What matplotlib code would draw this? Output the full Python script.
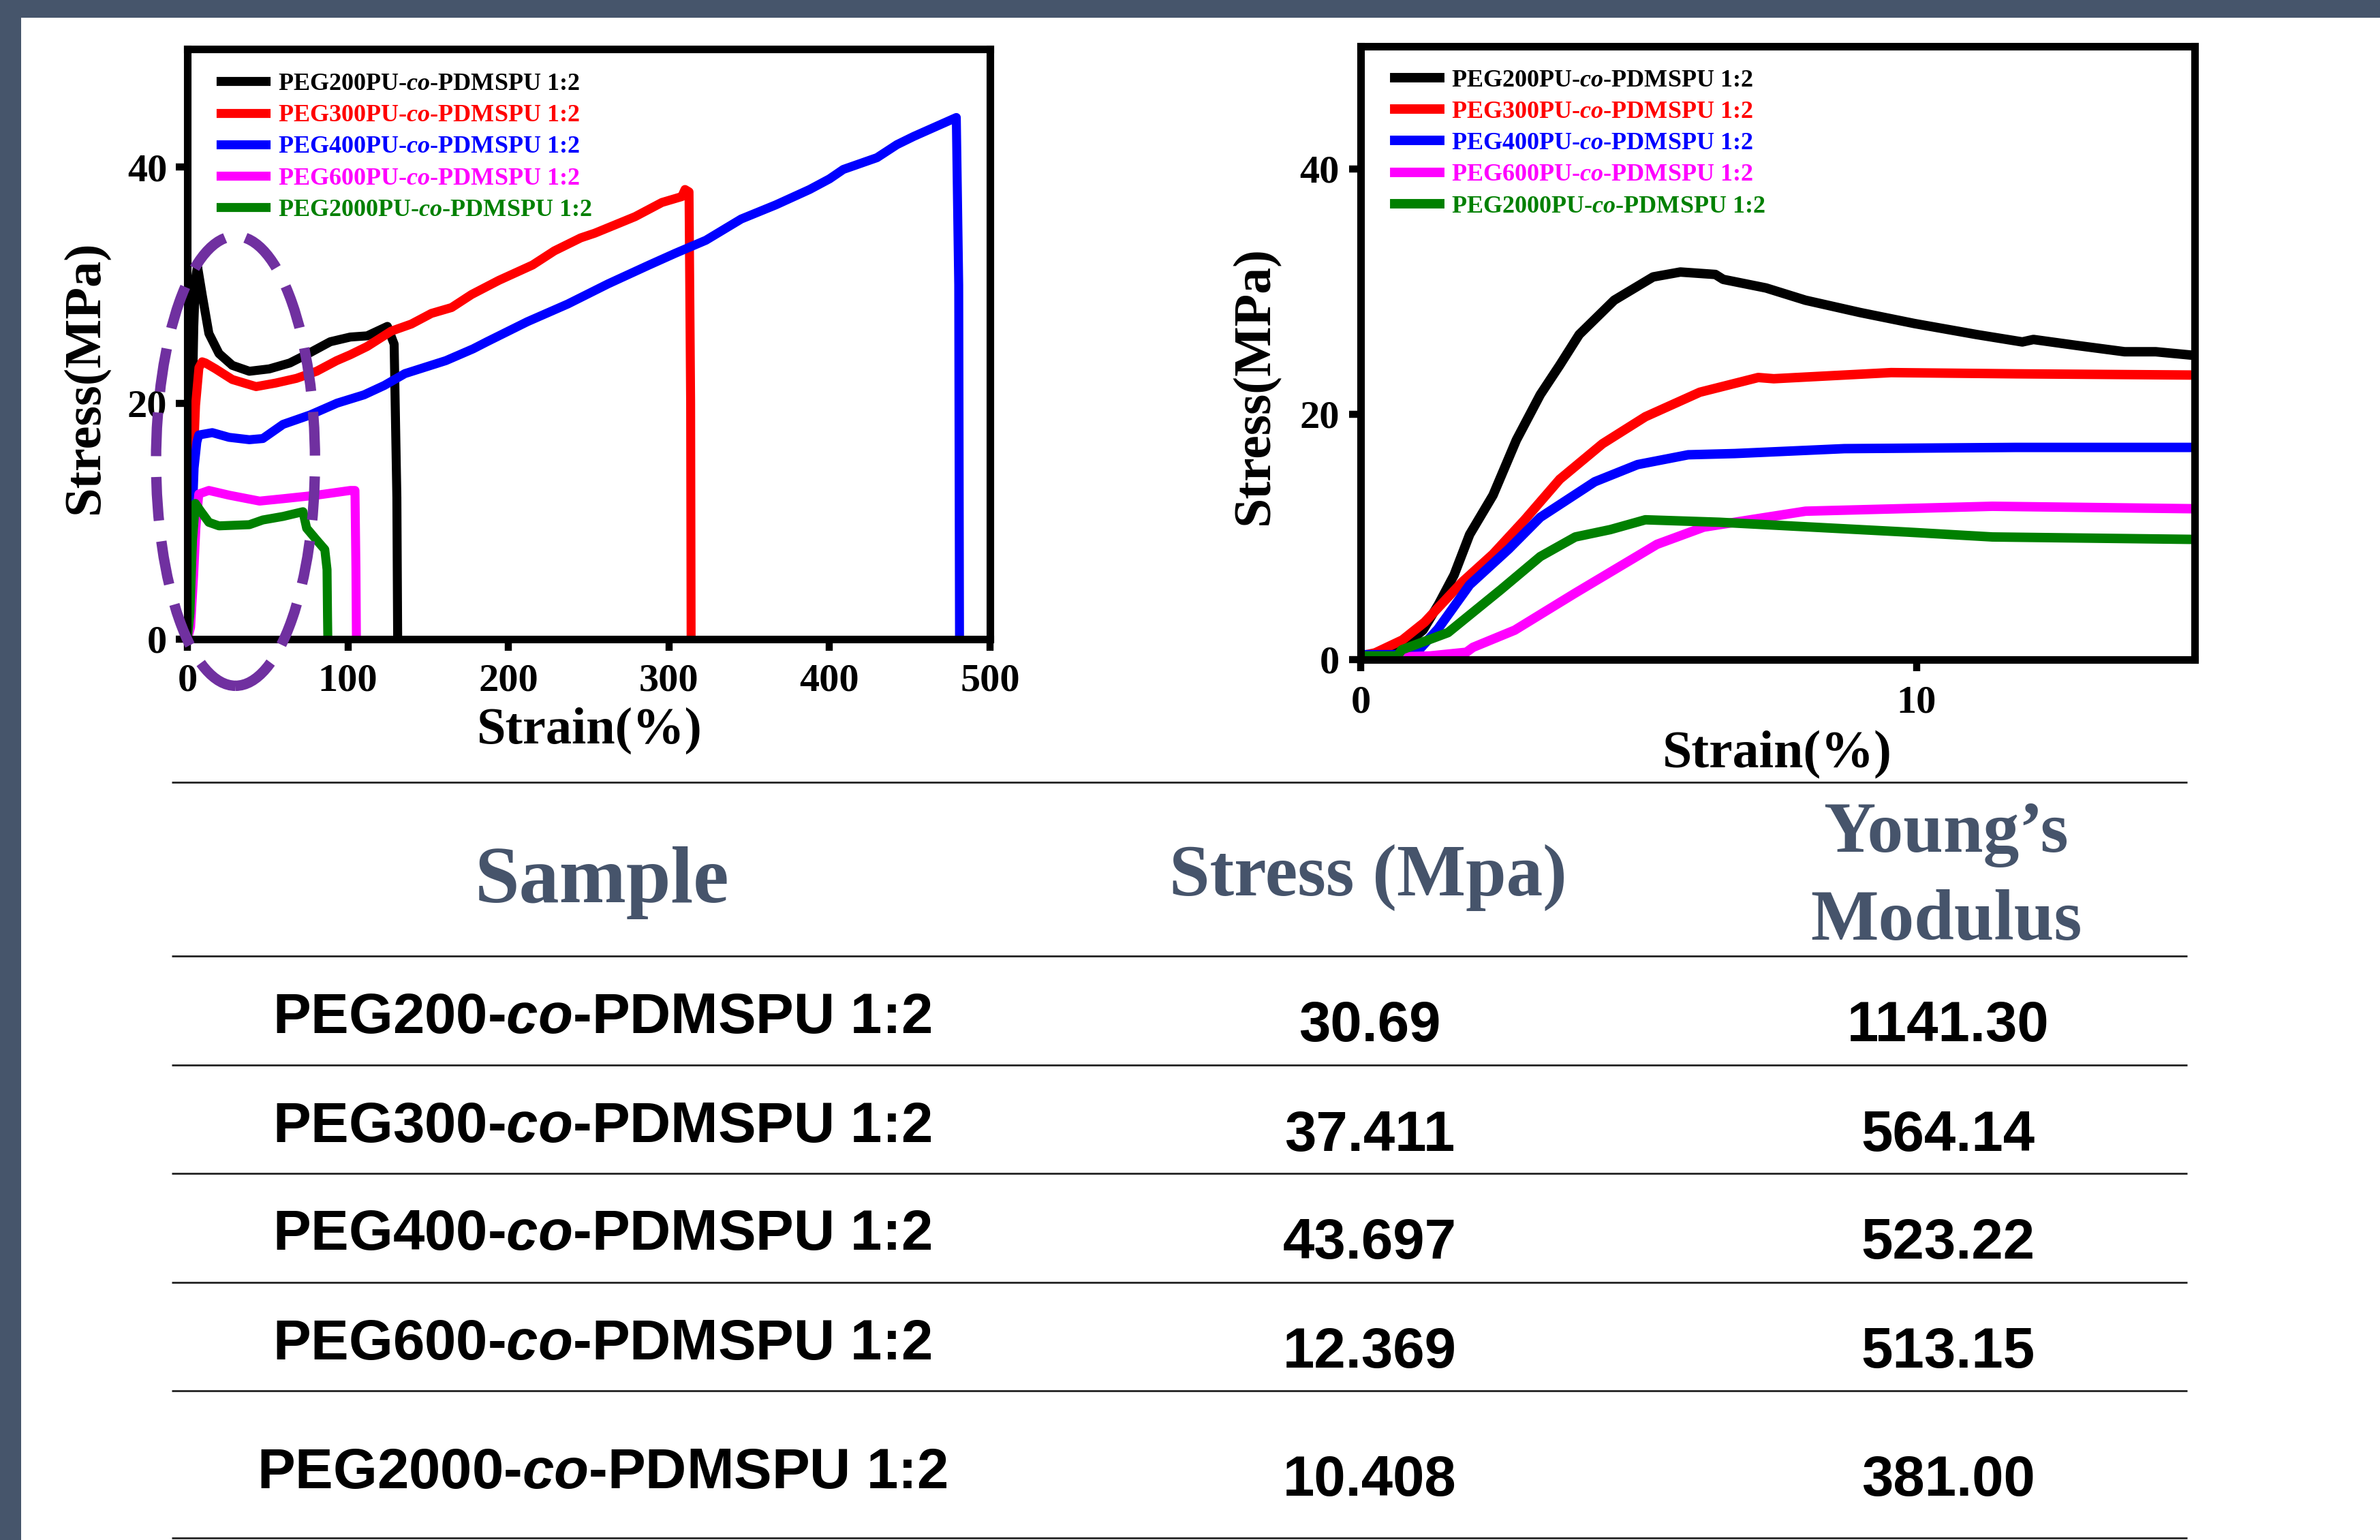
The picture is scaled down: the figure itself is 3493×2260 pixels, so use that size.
#!/usr/bin/env python3
"""Stress-strain curves of PEGxPU-co-PDMSPU 1:2 films plus summary table."""

import matplotlib
matplotlib.use("Agg")
import matplotlib.pyplot as plt
from matplotlib.patches import Ellipse, Rectangle

W, H = 3493, 2260

GRADES = ["PEG200", "PEG300", "PEG400", "PEG600", "PEG2000"]

# full range (left panel), strain % / stress MPa
wide_strain_200 = [0, 1, 2, 3, 4, 5, 6.3, 9.2, 13.4, 19.7, 28, 38.6, 51, 63.8, 74, 89, 101.5, 112, 124.6, 128.8, 130.5, 131]
wide_stress_200 = [0, 2, 10, 19.5, 26.5, 30.5, 31.6, 29.2, 25.9, 24.2, 23.2, 22.7, 22.9, 23.4, 24.1, 25.2, 25.6, 25.7, 26.5, 25, 12, 0]
wide_strain_300 = [0, 1.2, 2.4, 3.6, 5.1, 7.2, 9.2, 11.3, 17.6, 28, 42.8, 55, 68, 80.5, 93, 101.5, 112, 127, 139.5, 152, 164.6, 177, 194, 215, 228.6, 245, 253.8, 278.9, 295.6, 308, 310, 312.5, 313.5, 313.8]
wide_stress_300 = [0, 3.9, 8.6, 14.7, 19.8, 23.0, 23.5, 23.4, 22.9, 22.0, 21.4, 21.7, 22.1, 22.7, 23.6, 24.1, 24.8, 26.1, 26.7, 27.6, 28.1, 29.2, 30.4, 31.7, 32.9, 34.0, 34.4, 35.8, 37.0, 37.5, 38.1, 37.9, 20, 0]
wide_strain_400 = [0, 1.4, 2.7, 4.2, 5.9, 7.1, 15.5, 26, 38.6, 47, 59.6, 76.5, 93.3, 110, 122.7, 135.5, 161, 178, 186.6, 211.8, 237, 262, 287.6, 304, 323, 345, 366.6, 387.6, 400, 408.6, 429.6, 442, 452.5, 479, 480.5, 481]
wide_stress_400 = [0, 2.5, 9.0, 14.5, 16.7, 17.3, 17.5, 17.1, 16.9, 17.0, 18.2, 19.0, 20.0, 20.7, 21.5, 22.5, 23.6, 24.6, 25.2, 26.9, 28.4, 30.1, 31.7, 32.7, 33.8, 35.6, 36.8, 38.1, 39.0, 39.8, 40.8, 41.9, 42.6, 44.2, 30, 0]
wide_strain_600 = [0, 2, 3.9, 5.3, 7.1, 13.4, 26, 45, 59.6, 80.5, 101.5, 104.4, 105, 105.3]
wide_stress_600 = [0, 1.0, 5.4, 9.4, 12.3, 12.6, 12.2, 11.7, 11.9, 12.2, 12.6, 12.6, 6, 0]
wide_strain_2000 = [0, 1.6, 3.2, 5, 8, 13.4, 19.7, 38.6, 47, 59.6, 72, 74.3, 80.5, 85.6, 87, 87.3, 87.5]
wide_stress_2000 = [0, 2.2, 8.4, 11.5, 10.9, 9.9, 9.6, 9.7, 10.1, 10.4, 10.8, 9.4, 8.4, 7.6, 5.9, 2, 0]

# first 15 % of strain (right panel)
zoom_strain_200 = [0, 0.56, 1.12, 1.4, 1.68, 1.96, 2.38, 2.8, 3.23, 3.58, 3.93, 4.56, 5.26, 5.75, 6.38, 6.52, 7.29, 8.0, 8.98, 9.96, 11.08, 11.9, 12.1, 12.9, 13.74, 14.3, 15]
zoom_stress_200 = [0.3, 0.3, 2.4, 4.5, 6.9, 10.2, 13.4, 17.9, 21.6, 24.0, 26.5, 29.3, 31.2, 31.6, 31.4, 31.0, 30.3, 29.3, 28.3, 27.4, 26.5, 25.9, 26.1, 25.6, 25.1, 25.1, 24.8]
zoom_strain_300 = [0, 0.26, 0.75, 1.15, 1.82, 2.38, 2.95, 3.58, 4.35, 5.12, 6.1, 7.15, 7.43, 8.27, 9.54, 11.78, 15]
zoom_stress_300 = [0.3, 0.55, 1.6, 3.05, 6.3, 8.6, 11.4, 14.7, 17.6, 19.8, 21.8, 23.0, 22.9, 23.1, 23.4, 23.3, 23.2]
zoom_strain_400 = [0, 0.97, 1.39, 1.96, 2.66, 3.23, 4.21, 4.98, 5.89, 6.73, 8.7, 11.78, 15]
zoom_stress_400 = [0.4, 0.4, 2.5, 6.1, 9.0, 11.6, 14.5, 15.9, 16.7, 16.8, 17.2, 17.3, 17.3]
zoom_strain_600 = [0, 1.25, 1.9, 2.02, 2.77, 3.85, 5.33, 6.17, 7.01, 8.0, 11.36, 15]
zoom_stress_600 = [0.1, 0.3, 0.6, 1.0, 2.4, 5.4, 9.4, 10.8, 11.4, 12.1, 12.5, 12.3]
zoom_strain_2000 = [0, 0.66, 0.74, 1.57, 2.52, 3.23, 3.86, 4.49, 5.12, 6.45, 7.71, 9.82, 11.36, 15]
zoom_stress_2000 = [0.3, 0.3, 0.8, 2.2, 5.7, 8.4, 10.0, 10.6, 11.4, 11.2, 10.9, 10.4, 10.0, 9.8]

# table
table_stress = ["30.69", "37.411", "43.697", "12.369", "10.408"]
table_modulus = ["1141.30", "564.14", "523.22", "513.15", "381.00"]

COLORS = ["#000000", "#ff0000", "#0000ff", "#ff00ff", "#008000"]
BORDER = "#46556b"
HEAD = "#46546b"

plt.rcParams.update({
    "font.family": "Liberation Serif",
    "font.weight": "bold",
    "mathtext.fontset": "custom",
    "mathtext.rm": "Liberation Serif:bold",
    "mathtext.it": "Liberation Serif:italic:bold",
    "mathtext.sf": "Liberation Sans:italic:bold",
})


def px_rect(left, top, right, bottom):
    return [left / W, 1 - bottom / H, (right - left) / W, (bottom - top) / H]


def style_axes(ax, xmax, xticks, pad_x, pad_y):
    ax.set_xlim(0, xmax)
    ax.set_ylim(0, 50)
    ax.set_xticks(xticks)
    ax.set_yticks([0, 20, 40])
    for sp in ax.spines.values():
        sp.set_linewidth(8)
    ax.tick_params(direction="out", length=12.5, width=7.5, labelsize=42)
    ax.tick_params(axis="x", pad=pad_x)
    ax.tick_params(axis="y", pad=pad_y)


def add_legend(ax, anchor):
    ax.legend(loc="upper left", bbox_to_anchor=anchor, frameon=False, fontsize=26,
              handlelength=1.82, handletextpad=0.48, labelspacing=0.36,
              borderpad=0, borderaxespad=0, labelcolor="linecolor")


fig = plt.figure(figsize=(W / 100, H / 100), dpi=100)

# page overlay in pixel coordinates (border, axis titles, table)
ov = fig.add_axes([0, 0, 1, 1], zorder=-1)
ov.set_xlim(0, W)
ov.set_ylim(H, 0)
ov.axis("off")
ov.add_patch(Rectangle((0, 0), W, 26, color=BORDER, lw=0))
ov.add_patch(Rectangle((0, 0), 31, H, color=BORDER, lw=0))

wide = [(wide_strain_200, wide_stress_200), (wide_strain_300, wide_stress_300),
        (wide_strain_400, wide_stress_400), (wide_strain_600, wide_stress_600),
        (wide_strain_2000, wide_stress_2000)]
zoom = [(zoom_strain_200, zoom_stress_200), (zoom_strain_300, zoom_stress_300),
        (zoom_strain_400, zoom_stress_400), (zoom_strain_600, zoom_stress_600),
        (zoom_strain_2000, zoom_stress_2000)]

ax1 = fig.add_axes(px_rect(275, 72, 1453, 938))
for name, color, (xs, ys) in zip(GRADES, COLORS, wide):
    ax1.plot(xs, ys, color=color, lw=9.5, solid_joinstyle="round",
             label=f"{name}PU-$\\mathit{{co}}$-PDMSPU 1:2")
style_axes(ax1, 500, range(0, 501, 100), 13, 9)
add_legend(ax1, (0.042, 0.96))
ax1.add_patch(Ellipse((30, 15.1), 99, 38.1, fill=False, edgecolor="#7030a0", lw=11,
                      linestyle=(0, (4.2, 2.0)), zorder=5, clip_on=False))

ax2 = fig.add_axes(px_rect(1997, 68, 3221, 968))
for name, color, (xs, ys) in zip(GRADES, COLORS, zoom):
    ax2.plot(xs, ys, color=color, lw=10, solid_joinstyle="round",
             label=f"{name}PU-$\\mathit{{co}}$-PDMSPU 1:2")
style_axes(ax2, 15, [0, 10], 14.5, 10)
add_legend(ax2, (0.041, 0.963))

# axis titles
ov.text(865, 1091, "Strain(%)", ha="center", va="baseline", fontsize=55)
ov.text(144, 553, "Stress(MPa)", ha="center", va="baseline", fontsize=55,
        rotation=90, rotation_mode="anchor")
ov.text(2608, 1126, "Strain(%)", ha="center", va="baseline", fontsize=56)
ov.text(1861, 566, "Stress(MPa)", ha="center", va="baseline", fontsize=56,
        rotation=90, rotation_mode="anchor")

# table
ov.hlines([1148, 1403, 1563, 1722, 1882, 2041, 2257], 252, 3210, color="#222222", lw=2)
ov.text(883, 1324, "Sample", ha="center", va="baseline", fontsize=85, color=HEAD)
ov.text(2008, 1314, "Stress (Mpa)", ha="center", va="baseline", fontsize=77, color=HEAD)
ov.text(2856, 1250, "Young\u2019s", ha="center", va="baseline", fontsize=76, color=HEAD)
ov.text(2857, 1379, "Modulus", ha="center", va="baseline", fontsize=76, color=HEAD)

name_base = [1516, 1676, 1834, 1995, 2184]
value_base = [1528, 1689, 1847, 2007, 2195]
body = dict(ha="center", va="baseline", fontsize=60, family="Liberation Sans",
            weight="bold", color="black")
for name, s, m, yb, yv in zip(GRADES, table_stress, table_modulus, name_base, value_base):
    ov.text(884, yb, f"{name}-$\\mathsf{{co}}$-PDMSPU 1:2", **body)
    ov.text(2010, yv, s, **body)
    ov.text(2859, yv, m, **body)

fig.savefig("out.png", dpi=100)
